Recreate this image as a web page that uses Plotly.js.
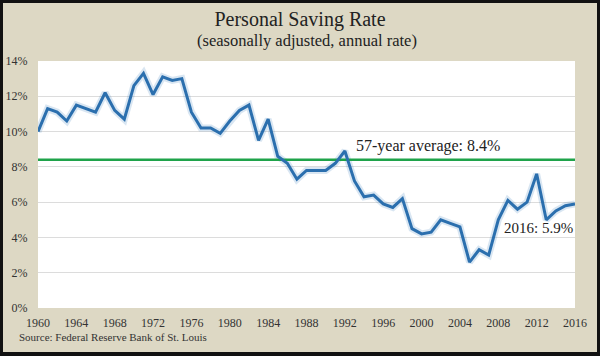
<!DOCTYPE html>
<html>
<head>
<meta charset="utf-8">
<script src="https://cdn.plot.ly/plotly-3.0.1.min.js"></script>
<style>
  html, body { margin: 0; padding: 0; background: #111; width: 600px; height: 356px; overflow: hidden; }
  #chart { position: absolute; left: 3px; top: 3px; width: 594px; height: 349px; }
</style>
</head>
<body>
<div id="chart"></div>
<script>
const years = [1960,1961,1962,1963,1964,1965,1966,1967,1968,1969,
               1970,1971,1972,1973,1974,1975,1976,1977,1978,1979,
               1980,1981,1982,1983,1984,1985,1986,1987,1988,1989,
               1990,1991,1992,1993,1994,1995,1996,1997,1998,1999,
               2000,2001,2002,2003,2004,2005,2006,2007,2008,2009,
               2010,2011,2012,2013,2014,2015,2016];
const savingRate = [10.0,11.3,11.1,10.6,11.5,11.3,11.1,12.2,11.2,10.7,
                    12.6,13.3,12.1,13.1,12.9,13.0,11.1,10.2,10.2,9.9,
                    10.6,11.2,11.5,9.5,10.7,8.6,8.2,7.3,7.8,7.8,
                    7.8,8.2,8.9,7.2,6.3,6.4,5.9,5.7,6.2,4.5,
                    4.2,4.3,5.0,4.8,4.6,2.6,3.3,3.0,5.0,6.1,
                    5.6,6.0,7.6,5.0,5.5,5.8,5.9];
const averageRate = 8.4;
const xTickVals = [1960,1964,1968,1972,1976,1980,1984,1988,1992,1996,2000,2004,2008,2012,2016];
const yTickVals = [0,2,4,6,8,10,12,14];
const titleText = 'Personal Saving Rate';
const subtitleText = '(seasonally adjusted, annual rate)';
const avgLabel = '57-year average: 8.4%';
const lastLabel = '2016: 5.9%';
const sourceText = 'Source: Federal Reserve Bank of St. Louis';

const serif = '"Liberation Serif", "DejaVu Serif", serif';
const firstYear = years[0], lastYear = years[years.length - 1];

const traces = [
  { x: years, y: savingRate, type: 'scatter', mode: 'lines',
    line: { color: 'rgba(46,117,182,0.18)', width: 7 }, hoverinfo: 'skip', showlegend: false },
  { x: [firstYear, lastYear], y: [averageRate, averageRate], type: 'scatter', mode: 'lines',
    line: { color: '#1fa34a', width: 2.5 }, showlegend: false },
  { x: years, y: savingRate, type: 'scatter', mode: 'lines',
    line: { color: '#2b6fae', width: 3 }, showlegend: false }
];

const layout = {
  width: 594, height: 349,
  paper_bgcolor: '#ddd8c4',
  plot_bgcolor: '#ffffff',
  margin: { l: 35, r: 22, t: 57.5, b: 44.3 },
  font: { family: serif, color: '#333333', size: 12 },
  title: { text: titleText, font: { family: serif, size: 20, color: '#222222' },
           x: 0.5, xanchor: 'center', y: 0.955, yanchor: 'middle' },
  xaxis: { range: [firstYear, lastYear], tickvals: xTickVals, ticktext: xTickVals.map(String),
           showgrid: false, zeroline: false, showline: false,
           ticks: 'outside', ticklen: 4, tickcolor: 'rgba(0,0,0,0)',
           tickfont: { family: serif, size: 12, color: '#333' } },
  yaxis: { range: [0, 14], tickvals: yTickVals, ticktext: yTickVals.map(v => v + '%'),
           showgrid: true, gridcolor: '#dcdcdc', gridwidth: 1, zeroline: false, showline: false,
           ticks: 'outside', ticklen: 7, tickcolor: 'rgba(0,0,0,0)',
           tickfont: { family: serif, size: 12, color: '#333' } },
  annotations: [
    { text: subtitleText, xref: 'paper', yref: 'paper', x: 0.5, xanchor: 'center',
      y: 1.084, yanchor: 'middle', showarrow: false,
      font: { family: serif, size: 16.5, color: '#222' } },
    { text: avgLabel, xref: 'x', yref: 'y', x: 1993.0, y: 9.21, xanchor: 'left', yanchor: 'middle',
      showarrow: false, font: { family: serif, size: 16, color: '#222' } },
    { text: lastLabel, xref: 'x', yref: 'y', x: 2016, y: 4.51, xanchor: 'right', yanchor: 'middle',
      showarrow: false, font: { family: serif, size: 15, color: '#222' } },
    { text: sourceText, xref: 'paper', yref: 'paper', x: -0.04, y: -0.118,
      xanchor: 'left', yanchor: 'middle', showarrow: false,
      font: { family: serif, size: 11, color: '#333' } }
  ]
};

Plotly.newPlot('chart', traces, layout, { staticPlot: true, displayModeBar: false });
</script>
</body>
</html>
